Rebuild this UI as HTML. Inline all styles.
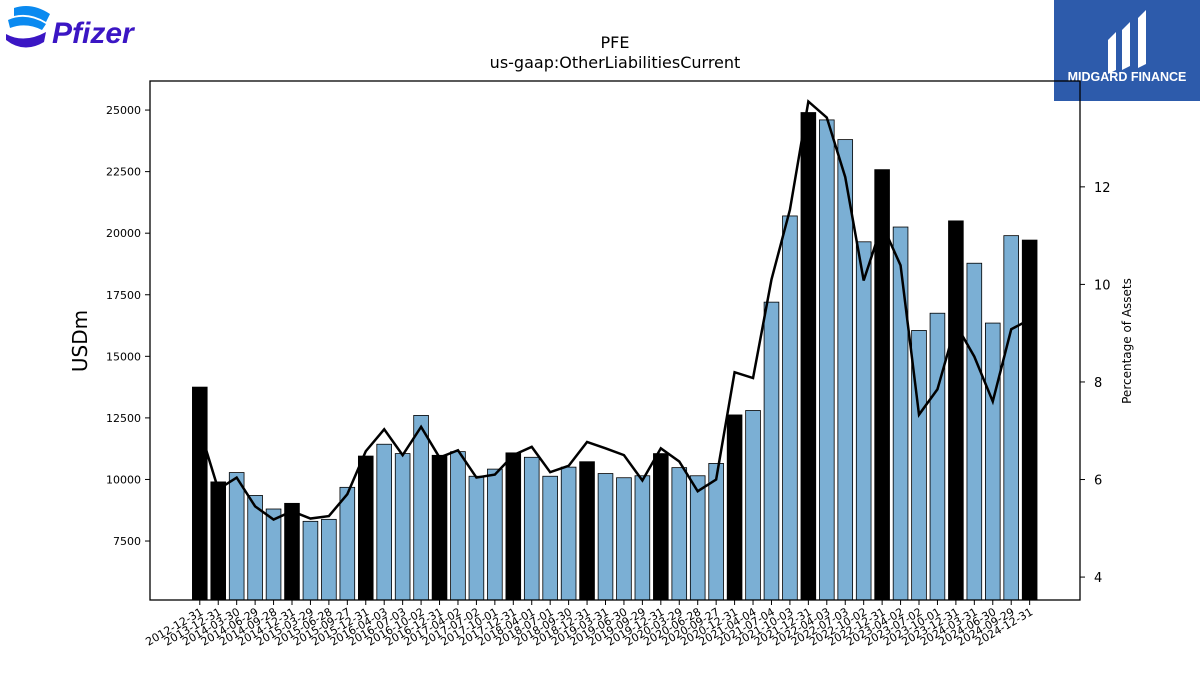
<!DOCTYPE html>
<html><head><meta charset="utf-8">
<style>
body{margin:0;background:#fff;width:1200px;height:675px;overflow:hidden;font-family:"Liberation Sans","DejaVu Sans",sans-serif;}
svg text{font-family:"DejaVu Sans","Liberation Sans",sans-serif;}
</style></head>
<body>
<svg id="chart" width="1200" height="675" xmlns="http://www.w3.org/2000/svg">
  <g>
    <path d="M14 8 Q32 2 50 14 L46 22 Q30 12 14 16 Z" fill="#0a8af0"/>
    <path d="M8 20 Q26 12 46 24 L42 30 Q26 22 10 28 Z" fill="#0a8af0"/>
    <path d="M6 34 Q24 44 46 32 L44 42 Q24 54 6 40 Z" fill="#3b16c4"/>
    <text x="52" y="43" font-size="30" font-style="italic" font-weight="bold" fill="#3b16c4" style="font-family:'Liberation Sans',sans-serif">Pfizer</text>
  </g>
  <g>
    <rect x="1054" y="0" width="146" height="101" fill="#2d5bab"/>
    <path d="M1108 40 L1116 32 L1116 70 L1108 74 Z" fill="#fff"/>
    <path d="M1122 30 L1130 22 L1130 66 L1122 70 Z" fill="#fff"/>
    <path d="M1138 18 L1146 10 L1146 64 L1138 68 Z" fill="#fff"/>
    <text x="1127" y="81" font-size="12.5" font-weight="bold" fill="#fff" text-anchor="middle" style="font-family:'Liberation Sans',sans-serif">MIDGARD FINANCE</text>
  </g>
  <text x="615" y="48" font-size="16" text-anchor="middle">PFE</text>
  <text x="615" y="68" font-size="16" text-anchor="middle">us-gaap:OtherLiabilitiesCurrent</text>
  <text x="0" y="0" font-size="20" text-anchor="middle" transform="translate(87,341) rotate(-90)">USDm</text>
  <text x="0" y="0" font-size="12" text-anchor="middle" transform="translate(1131,341) rotate(-90)">Percentage of Assets</text>
  <g id="bars"></g>
  <g id="axes"></g>
</svg>
<script>
const categories=["2012-12-31","2013-12-31","2014-03-30","2014-06-29","2014-09-28","2014-12-31","2015-03-29","2015-06-28","2015-09-27","2015-12-31","2016-04-03","2016-07-03","2016-10-02","2016-12-31","2017-04-02","2017-07-02","2017-10-01","2017-12-31","2018-04-01","2018-07-01","2018-09-30","2018-12-31","2019-03-31","2019-06-30","2019-09-29","2019-12-31","2020-03-29","2020-06-28","2020-09-27","2020-12-31","2021-04-04","2021-07-04","2021-10-03","2021-12-31","2022-04-03","2022-07-03","2022-10-02","2022-12-31","2023-04-02","2023-07-02","2023-10-01","2023-12-31","2024-03-31","2024-06-30","2024-09-29","2024-12-31"];
const liabilities=[13750,9900,10280,9350,8800,9030,8300,8380,9680,10950,11430,11050,12600,10980,11130,10130,10420,11080,10900,10130,10500,10720,10240,10070,10150,11050,10480,10150,10650,12620,12800,17200,20700,24900,24600,23800,19650,22580,20250,16050,16750,20500,18780,16350,19900,19720];
const pctAssets=[7.03,5.8,6.04,5.45,5.18,5.35,5.2,5.25,5.7,6.58,7.03,6.5,7.08,6.45,6.6,6.04,6.1,6.5,6.67,6.15,6.28,6.77,6.64,6.5,5.98,6.64,6.37,5.76,6.0,8.2,8.08,10.1,11.53,13.75,13.42,12.2,10.08,11.23,10.39,7.33,7.85,9.18,8.52,7.6,9.08,9.28];
const yTicks=[7500,10000,12500,15000,17500,20000,22500,25000];
const y2Ticks=[4,6,8,10,12];

const NS="http://www.w3.org/2000/svg";
const L=150,R=1080,T=81,B=600;
const xMin=-2.7,xMax=47.73, yMin=5105,yMax=26180, y2Min=3.53,y2Max=14.17;
const xs=i=>L+(i-xMin)/(xMax-xMin)*(R-L);
const ys=v=>B-(v-yMin)/(yMax-yMin)*(B-T);
const y2s=v=>B-(v-y2Min)/(y2Max-y2Min)*(B-T);
function mk(tag,attrs,parent){const e=document.createElementNS(NS,tag);for(const k in attrs)e.setAttribute(k,attrs[k]);parent.appendChild(e);return e;}
const bars=document.getElementById('bars'), axes=document.getElementById('axes');
const bw=0.8*(xs(1)-xs(0));
categories.forEach((c,i)=>{
  const ye=c.endsWith('12-31');
  const r=mk('rect',{x:xs(i)-bw/2,y:ys(liabilities[i]),width:bw,height:B-ys(liabilities[i]),fill:ye?'#000':'#7bafd4',stroke:'#000','stroke-width':0.8},bars);
  
  
  const t=mk('line',{x1:xs(i),x2:xs(i),y1:B,y2:B+5,stroke:'#000'},axes);
  
  
  const lb=mk('text',{x:0,y:0,'font-size':11,'text-anchor':'end',transform:`translate(${xs(i)+4},${B+14}) rotate(-30)`},axes);
  lb.textContent=c;
  
  
});
const pts=pctAssets.map((v,i)=>xs(i)+','+y2s(v)).join(' ');
const line=mk('polyline',{points:pts,fill:'none',stroke:'#000','stroke-width':2.5},axes);


const frame=mk('rect',{x:L,y:T,width:R-L,height:B-T,fill:'none',stroke:'#000','stroke-width':1.3},axes);


yTicks.forEach(v=>{
  const t=mk('line',{x1:L-5,x2:L,y1:ys(v),y2:ys(v),stroke:'#000'},axes);
  
  
  const lb=mk('text',{x:L-9,y:ys(v)+4,'font-size':11,'text-anchor':'end'},axes);
  lb.textContent=v;
  
  
});
y2Ticks.forEach(v=>{
  const t=mk('line',{x1:R,x2:R+5,y1:y2s(v),y2:y2s(v),stroke:'#000'},axes);
  
  
  const lb=mk('text',{x:R+14,y:y2s(v)+5,'font-size':13},axes);
  lb.textContent=v;
  
  
});
</script>
</body></html>
